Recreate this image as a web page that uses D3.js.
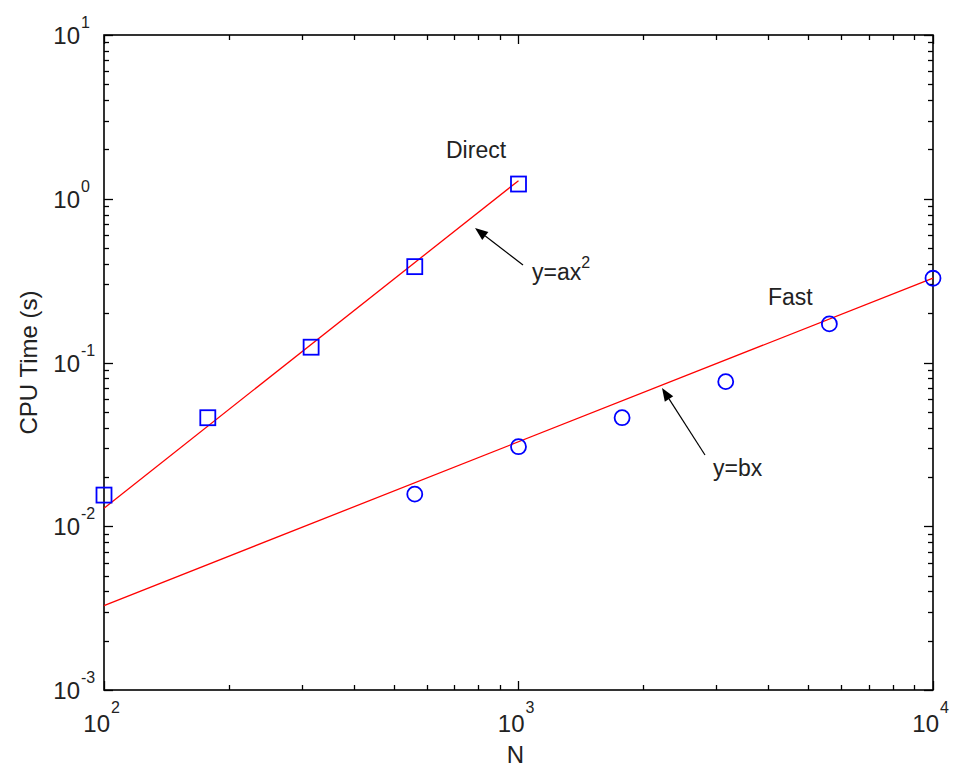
<!DOCTYPE html>
<html><head><meta charset="utf-8">
<script src="https://cdn.jsdelivr.net/npm/d3@7"></script>
<style>body{margin:0;background:#fff;} svg{display:block;}</style>
</head><body>
<script>
// ---- data ----
const directN = [100, 178, 316, 562, 1000];
const directTime = [0.0155, 0.046, 0.124, 0.385, 1.23];
const fastN = [562, 1000, 1778, 3162, 5623, 10000];
const fastTime = [0.0157, 0.0306, 0.046, 0.0764, 0.172, 0.327];
const directFitN = [100, 1000];
const directFitTime = [0.0129, 1.29];
const fastFitN = [100, 10000];
const fastFitTime = [0.00328, 0.328];
const xTickExps = [2, 3, 4];
const yTickExps = [-3, -2, -1, 0, 1];
const xLabel = "N";
const yLabel = "CPU Time (s)";

// ---- layout ----
const W = 956, H = 771;
const L = 104, R = 933, T = 35, B = 690;
const font = "'Liberation Sans', Arial, sans-serif";

const svg = d3.select("body").append("svg").attr("width", W).attr("height", H);
const x = d3.scaleLog().domain([100, 10000]).range([L, R]);
const y = d3.scaleLog().domain([1e-3, 10]).range([B, T]);

// minor/major ticks inside on all 4 sides
const tickG = svg.append("g").attr("stroke", "#000").attr("stroke-width", 1.3);
const xTicks = x.ticks(); // 100..10000 incl minors
xTicks.forEach(v => {
  const major = Math.abs(Math.log10(v) - Math.round(Math.log10(v))) < 1e-9;
  const len = major ? 9 : 5;
  const px = Math.round(x(v)) + 0.5;
  tickG.append("line").attr("x1", px).attr("x2", px).attr("y1", B).attr("y2", B - len);
  tickG.append("line").attr("x1", px).attr("x2", px).attr("y1", T).attr("y2", T + len);
});
const yTicks = y.ticks();
yTicks.forEach(v => {
  const major = Math.abs(Math.log10(v) - Math.round(Math.log10(v))) < 1e-9;
  const len = major ? 9 : 5;
  const py = Math.round(y(v)) + 0.5;
  tickG.append("line").attr("y1", py).attr("y2", py).attr("x1", L).attr("x2", L + len);
  tickG.append("line").attr("y1", py).attr("y2", py).attr("x1", R).attr("x2", R - len);
});

// box
svg.append("rect").attr("x", L).attr("y", T).attr("width", R - L).attr("height", B - T)
  .attr("fill", "none").attr("stroke", "#000").attr("stroke-width", 1.6);

// tick labels
const tl = svg.append("g").attr("font-family", font).attr("fill", "#222");
yTickExps.forEach(e => {
  const py = y(Math.pow(10, e));
  tl.append("text").attr("x", 80).attr("y", py + 9).attr("text-anchor", "end")
    .attr("font-size", 24).text("10");
  tl.append("text").attr("x", 81).attr("y", py - 7).attr("text-anchor", "start")
    .attr("font-size", 16).text(e);
});
xTickExps.forEach(e => {
  const px = x(Math.pow(10, e));
  tl.append("text").attr("x", px + 6).attr("y", 732).attr("text-anchor", "end")
    .attr("font-size", 24).text("10");
  tl.append("text").attr("x", px + 7).attr("y", 713).attr("text-anchor", "start")
    .attr("font-size", 16).text(e);
});

// axis labels
svg.append("text").attr("x", (L + R) / 2 - 3).attr("y", 763).attr("text-anchor", "middle")
  .attr("font-family", font).attr("font-size", 24).attr("fill", "#222").text(xLabel);
svg.append("text").attr("transform", `translate(37,${(T + B) / 2}) rotate(-90)`)
  .attr("text-anchor", "middle").attr("font-family", font).attr("font-size", 24)
  .attr("fill", "#222").text(yLabel);

// fit lines
const line = d3.line().x(d => x(d[0])).y(d => y(d[1]));
svg.append("path").datum(d3.zip(directFitN, directFitTime)).attr("d", line)
  .attr("fill", "none").attr("stroke", "#ff0000").attr("stroke-width", 1.3);
svg.append("path").datum(d3.zip(fastFitN, fastFitTime)).attr("d", line)
  .attr("fill", "none").attr("stroke", "#ff0000").attr("stroke-width", 1.3);

// markers
const sq = 15;
svg.append("g").selectAll("rect").data(d3.zip(directN, directTime)).join("rect")
  .attr("x", d => x(d[0]) - sq / 2).attr("y", d => y(d[1]) - sq / 2)
  .attr("width", sq).attr("height", sq)
  .attr("fill", "none").attr("stroke", "#0000ff").attr("stroke-width", 1.8);
svg.append("g").selectAll("circle").data(d3.zip(fastN, fastTime)).join("circle")
  .attr("cx", d => x(d[0])).attr("cy", d => y(d[1])).attr("r", 7.5)
  .attr("fill", "none").attr("stroke", "#0000ff").attr("stroke-width", 1.8);

// annotations
const ann = svg.append("g").attr("font-family", font).attr("fill", "#222");
ann.append("text").attr("x", 446).attr("y", 158).attr("font-size", 23).text("Direct");
ann.append("text").attr("x", 768).attr("y", 305).attr("font-size", 23).text("Fast");
const t1 = ann.append("text").attr("x", 532).attr("y", 280).attr("font-size", 23);
t1.append("tspan").text("y=ax");
t1.append("tspan").attr("dy", -12).attr("font-size", 16).text("2");
ann.append("text").attr("x", 713).attr("y", 476).attr("font-size", 23).text("y=bx");

function arrow(x1, y1, x2, y2) {
  const g = svg.append("g");
  const ang = Math.atan2(y2 - y1, x2 - x1);
  const hl = 13, hw = 5;
  const bx = x2 - hl * Math.cos(ang), by = y2 - hl * Math.sin(ang);
  g.append("line").attr("x1", x1).attr("y1", y1).attr("x2", bx).attr("y2", by)
    .attr("stroke", "#000").attr("stroke-width", 1.2);
  const px = -Math.sin(ang) * hw, py = Math.cos(ang) * hw;
  g.append("path").attr("d", `M${x2},${y2}L${bx + px},${by + py}L${bx - px},${by - py}Z`)
    .attr("fill", "#000");
}
arrow(523, 265, 475, 228);
arrow(705, 455, 662, 388);
</script>
</body></html>
